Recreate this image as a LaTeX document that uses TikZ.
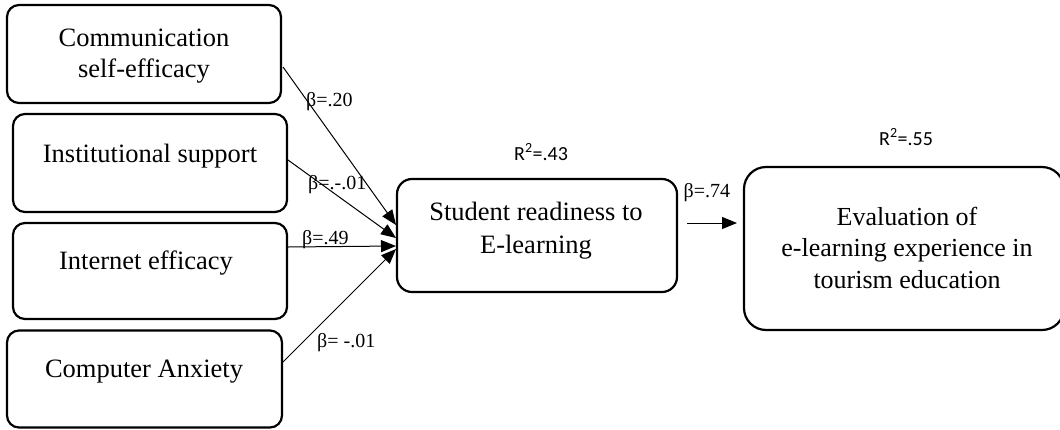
\documentclass[tikz,border=0pt]{standalone}
\usepackage{fontspec}
\setmainfont{Liberation Serif}
\newfontfamily\rfont{Carlito}
\usetikzlibrary{arrows.meta}
\tikzset{
  boxshape/.style={draw, line width=2.2pt, rounded corners=12pt, inner sep=0pt, outer sep=0pt},
  boxtext/.style={font=\fontsize{26.5}{31}\selectfont, align=center, inner sep=0pt},
  conn/.style={line width=1pt, -{Triangle[length=15pt,width=12pt]}},
  betalab/.style={font=\fontsize{20}{24}\selectfont, inner sep=0pt},
  rlab/.style={font=\rfont\fontsize{20}{24}\selectfont, inner sep=0pt}
}
\begin{document}
\begin{tikzpicture}[x=1pt,y=-1pt]
\useasboundingbox (0,0) rectangle (1060,429);
\clip (0,0) rectangle (1060,429);
\fill[white] (0,0) rectangle (1060,429);
% boxes
\node[boxshape, minimum width=274pt, minimum height=98pt] (box1) at (144,54) {};
\node[boxshape, minimum width=274pt, minimum height=98pt] (box2) at (150,163) {};
\node[boxshape, minimum width=274pt, minimum height=96pt] (box3) at (150,271) {};
\node[boxshape, minimum width=275pt, minimum height=97pt] (box4) at (144.5,379) {};
\node[boxshape, rounded corners=15pt, minimum width=280pt, minimum height=113pt] (stu) at (537,235.5) {};
\node[boxshape, rounded corners=22pt, minimum width=320pt, minimum height=163pt] (eval) at (904,248.5) {};
% texts
\node[boxtext] (t1) at (144,56.4) {Communication\\self-efficacy};
\node[boxtext, anchor=base] (t2) at (150,162) {Institutional support};
\node[boxtext, anchor=base] (t3) at (146,269) {Internet efficacy};
\node[boxtext, anchor=base] (t4) at (144,377) {Computer Anxiety};
\node[boxtext, font=\fontsize{26.5}{33}\selectfont] (t5) at (536,230.3) {Student readiness to\\E-learning};
\node[boxtext, font=\fontsize{26}{31.5}\selectfont] (t6) at (907,247.7) {Evaluation of\\e-learning experience in\\tourism education};
% connector points
\coordinate (s1) at (283,67);
\coordinate (s2) at (288,160);
\coordinate (s3) at (288,247);
\coordinate (s4) at (282,363);
\coordinate (e1) at (396,225);
\coordinate (e2) at (396,238);
\coordinate (e3) at (396,246);
\coordinate (e4) at (396,249);
\coordinate (s5) at (687,223);
\coordinate (e5) at (737,223);
\draw[conn] (s1) -- (e1);
\draw[conn] (s2) -- (e2);
\draw[conn] (s3) -- (e3);
\draw[conn] (s4) -- (e4);
\draw[conn] (s5) -- (e5);
% labels
\node[betalab, anchor=base west] (b1) at (306,106) {β=.20};
\node[betalab, anchor=base west] (b2) at (308,189) {β=.-.01};
\node[betalab, anchor=base west] (b3) at (302,244) {β=.49};
\node[betalab, anchor=base west] (b4) at (317,347) {β= -.01};
\node[betalab, anchor=base west] (b5) at (683.5,197) {β=.74};
\node[rlab, anchor=base west] (r1) at (514,160) {R\textsuperscript{2}=.43};
\node[rlab, anchor=base west] (r2) at (879,145) {R\textsuperscript{2}=.55};
\end{tikzpicture}
\end{document}
